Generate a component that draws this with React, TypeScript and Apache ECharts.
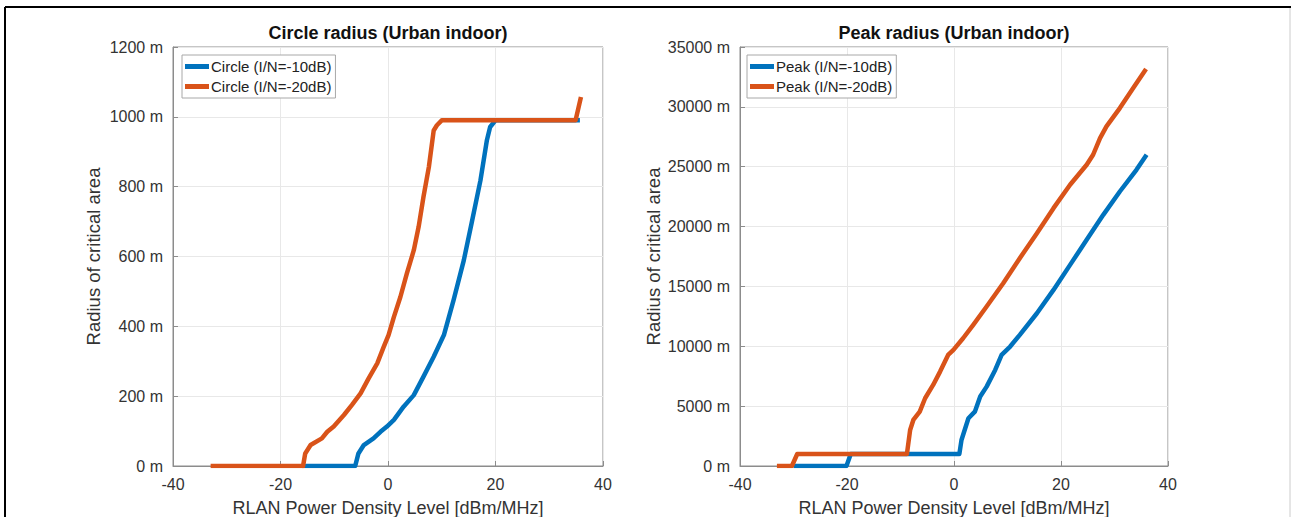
import React, { useEffect, useRef } from "react";
import * as echarts from "echarts";

// ---- Data (x: RLAN Power Density Level [dBm/MHz], y: radius [m]) ----
const circleN10X = [-16, -6.1, -5.5, -4.5, -2.7, -1.4, -0.2, 1.1, 2.9, 4.8, 6.6, 8.5, 10.4, 12.2, 14.1, 15.6, 17.2, 18.4, 19.0, 20.0, 35.7];
const circleN10Y = [0, 0, 36, 60, 79, 98, 113, 132, 170, 203, 256, 313, 375, 475, 589, 699, 818, 933, 971, 990, 990];

const circleN20X = [-33, -15.8, -15.4, -14.4, -12.3, -11.3, -10.1, -8.2, -6.7, -5.1, -3.6, -2.0, -0.8, 0.1, 1.1, 2.3, 3.5, 4.8, 5.7, 6.6, 7.6, 8.5, 9.1, 10.0, 34.9, 35.9];
const circleN20Y = [0, 0, 36, 60, 79, 98, 113, 146, 175, 208, 251, 294, 341, 375, 427, 484, 551, 618, 685, 771, 856, 961, 976, 990, 990, 1057];

const peakN10X = [-30.0, -20.1, -19.3, 1.0, 1.4, 2.1, 2.7, 3.9, 4.9, 6.1, 7.7, 8.9, 10.5, 12.3, 15.5, 18.6, 21.7, 24.8, 27.9, 31.0, 34.1, 36.0];
const peakN10Y = [0, 0, 1000, 1000, 2170, 3150, 3985, 4540, 5800, 6630, 8025, 9280, 9980, 10950, 12760, 14710, 16800, 18890, 20980, 22930, 24740, 26000];

const peakN20X = [-33.1, -30.3, -29.3, -8.8, -8.2, -7.6, -6.4, -5.4, -3.9, -2.6, -1.1, -0.1, 1.7, 3.6, 6.1, 9.2, 12.3, 15.5, 18.6, 21.7, 24.8, 26.0, 27.3, 28.5, 31.0, 33.5, 35.9];
const peakN20Y = [0, 0, 1000, 1000, 3010, 3845, 4540, 5657, 6770, 7886, 9280, 9700, 10670, 11790, 13320, 15270, 17360, 19450, 21540, 23490, 25160, 26000, 27390, 28370, 29900, 31570, 33160];

const xTicks = { min: -40, max: 40, interval: 20 };
const circleTicks = { min: 0, max: 1200, interval: 200 };
const peakTicks = { min: 0, max: 35000, interval: 5000 };

const titles = ["Circle radius (Urban indoor)", "Peak radius (Urban indoor)"];
const xName = "RLAN Power Density Level [dBm/MHz]";
const yName = "Radius of critical area";
const seriesNames = [
  "Circle (I/N=-10dB)",
  "Circle (I/N=-20dB)",
  "Peak (I/N=-10dB)",
  "Peak (I/N=-20dB)",
];

const BLUE = "#0072BD";
const ORANGE = "#D95319";
const FONT = "'Liberation Sans', Arial, Helvetica, sans-serif";
const TXT = "#333333";

const zip = (xs: number[], ys: number[]) => xs.map((x, i) => [x, ys[i]]);

export default function App() {
  const ref = useRef<HTMLDivElement>(null);

  useEffect(() => {
    document.body.style.margin = "0";
    const chart = echarts.init(ref.current!, undefined, { renderer: "svg" });

    const grids = [
      { left: 173, top: 47, width: 430, height: 419 },
      { left: 740, top: 47, width: 428, height: 419 },
    ];

    const xAxisBase = (gi: number) => ({
      type: "value",
      gridIndex: gi,
      ...xTicks,
      name: xName,
      nameLocation: "middle",
      nameGap: 33,
      nameTextStyle: { fontFamily: FONT, fontSize: 18, color: TXT },
      axisLine: { show: true, onZero: false, lineStyle: { color: "#8c8c8c", width: 1 } },
      axisTick: { show: true, inside: true, length: 5, lineStyle: { color: "#8c8c8c" } },
      axisLabel: { fontFamily: FONT, fontSize: 16, color: TXT, margin: 10 },
      splitLine: { show: true, lineStyle: { color: "#e8e8e8", width: 1 } },
    });

    const yAxisBase = (gi: number, ticks: any, gap: number) => ({
      type: "value",
      gridIndex: gi,
      ...ticks,
      name: yName,
      nameLocation: "middle",
      nameGap: gap,
      nameTextStyle: { fontFamily: FONT, fontSize: 18.5, color: TXT },
      axisLine: { show: true, onZero: false, lineStyle: { color: "#8c8c8c", width: 1 } },
      axisTick: { show: true, inside: true, length: 5, lineStyle: { color: "#8c8c8c" } },
      axisLabel: {
        fontFamily: FONT,
        fontSize: 16,
        color: TXT,
        margin: 10,
        formatter: (v: number) => `${v} m`,
      },
      splitLine: { show: true, lineStyle: { color: "#e8e8e8", width: 1 } },
    });

    const lineSeries = (name: string, data: number[][], color: string, gi: number) => ({
      type: "line",
      name,
      xAxisIndex: gi,
      yAxisIndex: gi,
      data,
      symbol: "none",
      smooth: false,
      lineStyle: { color, width: 4.5, cap: "butt", join: "round" },
      itemStyle: { color },
    });

    const legendBase = (left: number, data: string[]) => ({
      show: true,
      orient: "vertical",
      left,
      top: 55,
      data,
      icon: "rect",
      itemWidth: 24,
      itemHeight: 5,
      itemGap: 5,
      padding: [4, 4, 4, 3],
      borderColor: "#a8a8a8",
      borderWidth: 1,
      backgroundColor: "#ffffff",
      textStyle: { fontFamily: FONT, fontSize: 15, color: "#222", padding: [0, 0, 0, -3] },
    });

    chart.setOption({
      animation: false,
      backgroundColor: "#ffffff",
      grid: grids.map((g) => ({
        ...g,
        outerBoundsMode: "none",
        containLabel: false,
        show: true,
        borderColor: "#8c8c8c",
        borderWidth: 1,
        backgroundColor: "transparent",
      })),
      xAxis: [xAxisBase(0), xAxisBase(1)],
      yAxis: [yAxisBase(0, circleTicks, 70), yAxisBase(1, peakTicks, 77)],
      legend: [
        legendBase(182, [seriesNames[0], seriesNames[1]]),
        legendBase(747, [seriesNames[2], seriesNames[3]]),
      ],
      series: [
        lineSeries(seriesNames[0], zip(circleN10X, circleN10Y), BLUE, 0),
        lineSeries(seriesNames[1], zip(circleN20X, circleN20Y), ORANGE, 0),
        lineSeries(seriesNames[2], zip(peakN10X, peakN10Y), BLUE, 1),
        lineSeries(seriesNames[3], zip(peakN20X, peakN20Y), ORANGE, 1),
      ],
      graphic: [
        {
          type: "text",
          x: 388,
          y: 33,
          style: { text: titles[0], fill: "#111", font: `bold 18px ${FONT}`, textAlign: "center", textVerticalAlign: "middle" },
        },
        {
          type: "text",
          x: 954,
          y: 33,
          style: { text: titles[1], fill: "#111", font: `bold 18px ${FONT}`, textAlign: "center", textVerticalAlign: "middle" },
        },
        { type: "line", shape: { x1: 5, y1: 7, x2: 1291, y2: 7 }, style: { stroke: "#000", lineWidth: 2 } },
        { type: "line", shape: { x1: 5, y1: 7, x2: 5, y2: 517 }, style: { stroke: "#000", lineWidth: 2 } },
        { type: "line", shape: { x1: 1290, y1: 8, x2: 1290, y2: 517 }, style: { stroke: "#cccccc", lineWidth: 1 } },
      ],
    });

    return () => chart.dispose();
  }, []);

  return <div ref={ref} style={{ width: 1291, height: 517 }} />;
}
